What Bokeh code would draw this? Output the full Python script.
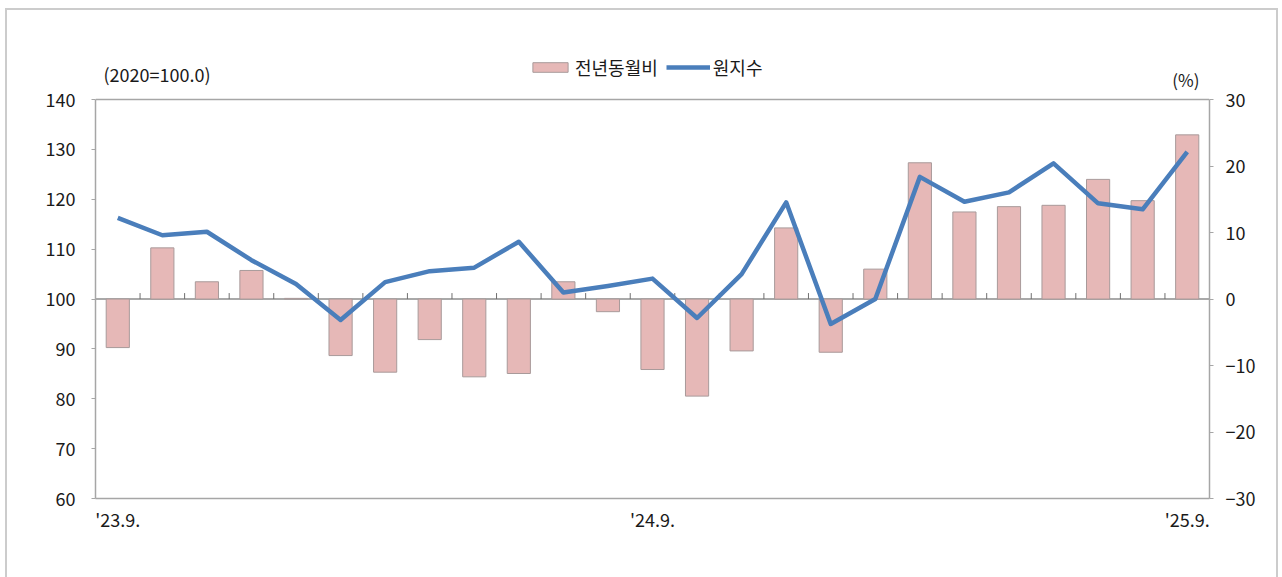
from bokeh.plotting import figure
from bokeh.models import (Range1d, LinearAxis, FixedTicker, Legend, LegendItem,
                          Label, Span, ColumnDataSource)
from bokeh.embed import file_html
from bokeh.resources import INLINE

# ---- data ----
months = ["'23.9.", "'23.10.", "'23.11.", "'23.12.", "'24.1.", "'24.2.", "'24.3.",
          "'24.4.", "'24.5.", "'24.6.", "'24.7.", "'24.8.", "'24.9.", "'24.10.",
          "'24.11.", "'24.12.", "'25.1.", "'25.2.", "'25.3.", "'25.4.", "'25.5.",
          "'25.6.", "'25.7.", "'25.8.", "'25.9."]
yoy = [-7.3, 7.7, 2.6, 4.3, 0.1, -8.5, -11.0, -6.1, -11.7, -11.2, 2.6, -1.9,
       -10.6, -14.6, -7.8, 10.7, -8.0, 4.5, 20.5, 13.1, 13.9, 14.1, 18.0, 14.8, 24.7]
index = [116.3, 112.8, 113.5, 107.8, 103.0, 95.8, 103.4, 105.6, 106.3, 111.5,
         101.3, 102.6, 104.1, 96.2, 105.0, 119.4, 95.0, 100.0, 124.5, 119.5,
         121.4, 127.2, 119.2, 118.0, 129.5]
shown_labels = ["'23.9.", "'24.9.", "'25.9."]
left_ticks = [60, 70, 80, 90, 100, 110, 120, 130, 140]
right_ticks = [-30, -20, -10, 0, 10, 20, 30]
series_names = ["전년동월비", "원지수"]
left_unit = "(2020=100.0)"
right_unit = "(%)"

FONT = "Noto Sans CJK KR"
GRAY = "#a6a6a6"
TXT = "#1a1a1a"
n = len(months)
xs = list(range(1, n + 1))
src = ColumnDataSource(dict(x=xs, yoy=yoy, idx=index, month=months))

# layout geometry (px): visible plot box height and headroom above it
BOX_H = 398
HEAD = 49
L0, L1 = left_ticks[0], left_ticks[-1]
R0, R1 = right_ticks[0], right_ticks[-1]
l_top = L1 + HEAD * (L1 - L0) / BOX_H
r_top = R1 + HEAD * (R1 - R0) / BOX_H

p = figure(width=1273, height=569, output_backend="svg", toolbar_location=None,
           x_range=Range1d(0.5, n + 0.5),
           y_range=Range1d(L0, l_top),
           min_border_left=88, min_border_right=71, min_border_top=40,
           min_border_bottom=81, margin=(8, 2, 0, 5))
p.extra_y_ranges = {"pct": Range1d(R0, r_top)}
p.styles = {"border-left": "2px solid #cccccc", "border-top": "2px solid #cccccc",
            "border-right": "2px solid #cccccc"}
p.xgrid.visible = False
p.ygrid.visible = False
p.outline_line_color = None
p.background_fill_color = "white"

# top edge of the plot box
p.add_layout(Span(location=L1, dimension="width", line_color=GRAY, line_width=1.5))
# zero line and category ticks
p.add_layout(Span(location=0, dimension="width", y_range_name="pct",
                  line_color="#8c8c8c", line_width=1.5, level="underlay"))
bounds = [i + 0.5 for i in range(1, n)]
p.segment(x0=bounds, x1=bounds, y0=[0] * len(bounds), y1=[0.9] * len(bounds),
          y_range_name="pct", line_color="#6f6f6f", line_width=1)

bars = p.vbar(x="x", top="yoy", bottom=0, width=0.52, source=src, y_range_name="pct",
              fill_color="#e6b8b7", line_color="#a89a9a", line_width=1)
line = p.line(x="x", y="idx", source=src, line_color="#4a7ebb", line_width=4.5,
              line_join="round")

# axes
ax_style = dict(axis_line_color=GRAY, axis_line_width=1.5,
                major_tick_line_color=GRAY, major_tick_in=0, major_tick_out=4,
                minor_tick_line_color=None,
                major_label_text_font=FONT, major_label_text_font_size="18px",
                major_label_text_color=TXT)
yl = p.yaxis[0]
yl.ticker = FixedTicker(ticks=left_ticks)
yl.bounds = (L0, L1)
for k, v in ax_style.items():
    setattr(yl, k, v)
yl.major_label_standoff = 16

yr = LinearAxis(y_range_name="pct", ticker=FixedTicker(ticks=right_ticks),
                bounds=(R0, R1), **ax_style)
yr.major_label_standoff = 12
p.add_layout(yr, "right")

xa = p.xaxis[0]
pos = [months.index(m) + 1 for m in shown_labels]
xa.ticker = FixedTicker(ticks=pos)
xa.major_label_overrides = {x: m for x, m in zip(pos, shown_labels)}
xa.axis_line_color = GRAY
xa.axis_line_width = 1.5
xa.major_tick_line_color = None
xa.minor_tick_line_color = None
xa.major_label_standoff = 1
xa.major_label_text_font = FONT
xa.major_label_text_font_size = "18px"
xa.major_label_text_color = TXT

# unit labels
p.add_layout(Label(x=0.5, y=L1, x_offset=8, y_offset=13, text=left_unit,
                   text_font=FONT, text_font_size="18px", text_color=TXT,
                   text_baseline="bottom"))
p.add_layout(Label(x=n + 0.5, y=R1, y_range_name="pct", x_offset=-10,
                   y_offset=8, text=right_unit, text_align="right",
                   text_font=FONT, text_font_size="17px", text_color=TXT,
                   text_baseline="bottom"))

legend = Legend(items=[LegendItem(label=series_names[0], renderers=[bars]),
                       LegendItem(label=series_names[1], renderers=[line])],
                orientation="horizontal", location=(433, 418),
                glyph_width=44, glyph_height=12, label_standoff=3, spacing=8,
                padding=0, margin=0, border_line_color=None,
                background_fill_alpha=0,
                label_text_font=FONT, label_text_font_size="18px",
                label_text_color=TXT)
p.add_layout(legend, "center")

open("out.html", "w").write(file_html(p, INLINE))
